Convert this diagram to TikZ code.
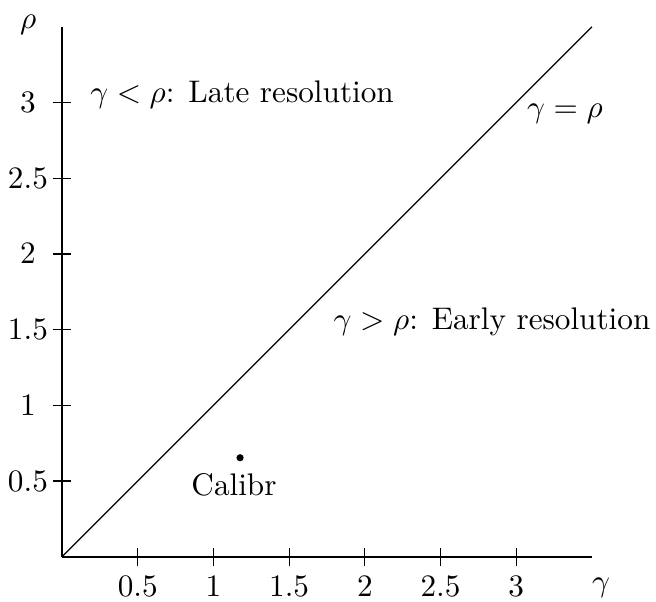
\documentclass[tikz,border=0pt]{standalone}
\begin{document}
\begin{tikzpicture}[x=48.5pt,y=48.5pt,
  axis/.style={line width=0.5pt},
  tickline/.style={line width=0.4pt},
  xlab/.style={anchor=north},
  ylab/.style={anchor=center},
  txt/.style={anchor=base}]
\useasboundingbox (-0.4095,-0.2926) rectangle (3.923,3.677);
\coordinate (O) at (0,0);
\coordinate (xend) at (3.5,0);
\coordinate (yend) at (0,3.5);
\coordinate (diag) at (3.5,3.5);
\draw[axis] (O) -- (xend);
\draw[axis] (O) -- (yend);
\draw[line width=0.4pt] (O) -- (diag);
\foreach \v/\t in {0.5/0.5,1/1,1.5/1.5,2/2,2.5/2.5,3/3}{
  \draw[tickline] (\v,-0.06) -- (\v,0.06);
  \node[xlab] (xl\v) at (\v,-0.06) {$\t$};
  \draw[tickline] (-0.06,\v) -- (0.06,\v);
  \node[ylab] (yl\v) at (-0.225,\v) {$\t$};
}
\node[txt] (gam) at (3.56,-0.23) {$\gamma$};
\node[txt] (rho) at (-0.223,3.489) {$\rho$};
\node[txt] (late) at (1.189,2.997) {$\gamma<\rho$: Late resolution};
\node[txt] (early) at (2.840,1.498) {$\gamma>\rho$: Early resolution};
\node[txt] (eq) at (3.322,2.904) {$\gamma=\rho$};
\fill (1.176,0.654) circle (1.15pt) coordinate (cal);
\node[txt] (calt) at (1.136,0.407) {Calibr};
\end{tikzpicture}
\end{document}
